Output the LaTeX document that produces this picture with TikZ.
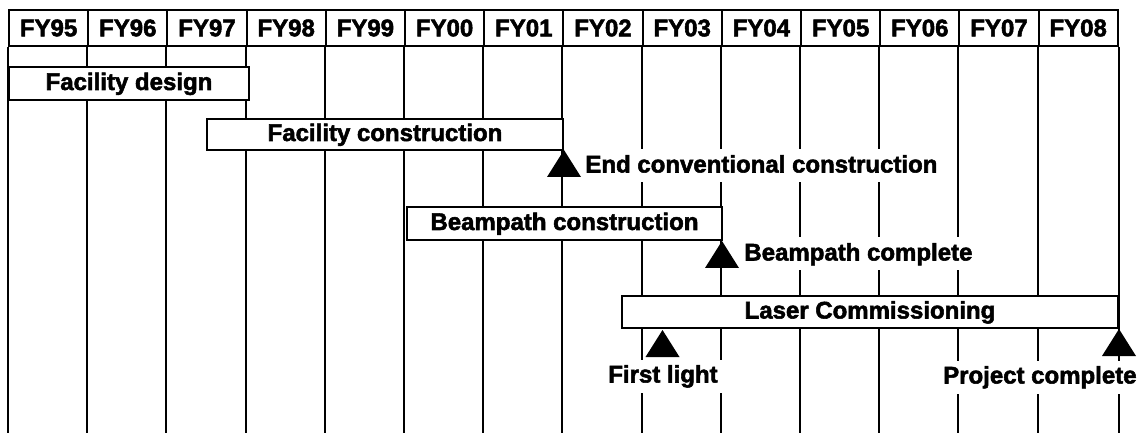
\documentclass[tikz,border=0pt]{standalone}
\usepackage{fontspec}
\setmainfont{Liberation Sans}[BoldFeatures={FakeBold=2.2}]
\usepackage{tikz}

\begin{document}
\begin{tikzpicture}[x=0.5pt,y=-0.5pt,
 every node/.style={font=\fontsize{12}{14}\selectfont\bfseries},
 yearcell/.style={draw,line width=1pt,minimum width=39.6pt,minimum height=18pt,inner sep=0pt},
 gridline/.style={line width=1pt},
 bar/.style={draw,fill=white,line width=1pt,minimum height=16.5pt,inner sep=0pt,text height=9pt,text depth=2.5pt},
 milestone/.style={fill=black},
 milelabel/.style={fill=white,inner xsep=2pt,inner ysep=0pt,minimum height=16.5pt,text height=9pt,text depth=2.5pt}]
\useasboundingbox (0,0) rectangle (1142,433);
% year header
\foreach \yr [count=\i from 0] in {95,96,97,98,99,00,01,02,03,04,05,06,07,08}
  \node[yearcell] (fy\yr) at ({48.6+79.2*\i},28) {FY\yr};
% column lines
\foreach \yr in {95,96,97,98,99,00,01,02,03,04,05,06,07,08}
  \draw[gridline] (fy\yr.south west) -- ++(0,387);
\draw[gridline] (fy08.south east) -- ++(0,387);
% activity bars
\node[bar, minimum width=120pt] (design) at (129,83.5) {Facility design};
\node[bar, minimum width=178pt, minimum height=15.5pt] (construct) at (385,134.5) {Facility construction};
\node[bar, minimum width=157.5pt] (beampath) at (564.5,223.5) {Beampath construction};
\node[bar, minimum width=248pt, minimum height=16pt] (laser) at (870,312) {Laser Commissioning};
% milestones
\coordinate (endconv) at (564,150);
\coordinate (beamdone) at (722,241);
\coordinate (firstlight) at (662.5,330);
\coordinate (projdone) at (1119,329);
\node[milelabel, anchor=west] (endconvtext) at (581,166) {End conventional construction};
\node[milelabel, anchor=west] (beamdonetext) at (740,254) {Beampath complete};
\node[milelabel] (firstlighttext) at (663,376) {First light};
\node[milelabel, anchor=east] (projdonetext) at (1141,377) {Project complete};
\foreach \m in {endconv,beamdone,firstlight,projdone}
  \fill[milestone] (\m) -- ++(-17,27) -- ++(34,0) -- cycle;
\end{tikzpicture}
\end{document}
